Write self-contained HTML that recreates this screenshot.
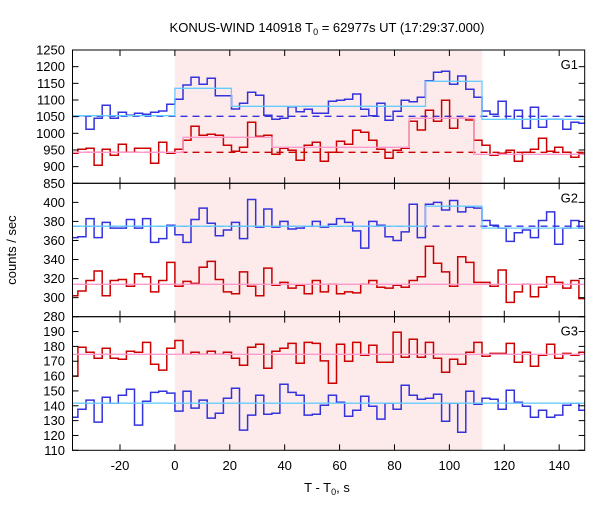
<!DOCTYPE html>
<html><head><meta charset="utf-8"><style>
body{margin:0;background:#fff;}
svg text{font-family:"Liberation Sans",sans-serif;fill:#000;}
</style></head><body>
<svg id="chart" width="600" height="500" xmlns="http://www.w3.org/2000/svg">
<text x="327" y="32" font-size="13" text-anchor="middle">KONUS-WIND 140918 T<tspan font-size="9" dy="3">0</tspan><tspan dy="-3"> = 62977s UT (17:29:37.000)</tspan></text>
<text x="16" y="250" font-size="13" text-anchor="middle" transform="rotate(-90 16 250)">counts / sec</text>
<text x="327" y="492" font-size="13" text-anchor="middle">T - T<tspan font-size="9" dy="3">0</tspan><tspan dy="-3">, s</tspan></text>
</svg>
<script>
const binWidth = 2.944;
const firstBin = -13;
const g1Blue = [1053,1053,1012,1045,1084,1045,1063,1054,1060,1057,1063,1067,1087,1102,1145,1168,1147,1165,1113,1113,1073,1090,1123,1114,1054,1042,1045,1080,1065,1072,1060,1060,1096,1099,1102,1118,1072,1053,1090,1039,1066,1099,1095,1108,1158,1183,1186,1147,1172,1132,1108,1067,1057,1096,1042,1069,1015,1078,1018,1042,1042,1012,1033,1030];
const g1Red = [940,952,955,904,952,934,967,943,955,955,910,973,940,952,979,1021,994,997,994,964,946,958,1033,991,994,937,955,949,919,964,973,916,943,976,967,1009,1003,979,952,925,949,955,1036,1010,1069,1036,1099,1015,1045,1040,979,964,934,940,949,916,943,952,985,946,958,943,928,940];
const g2Blue = [363,364,383,363,379,373,373,382,373,383,358,362,376,366,358,382,394,378,365,371,379,362,403,374,393,374,380,372,373,375,380,374,377,383,379,370,352,380,376,364,360,369,398,363,398,400,392,402,390,395,394,381,376,373,359,368,371,363,381,390,356,373,381,373];
const g2Red = [302,307,318,328,302,318,319,312,325,322,306,318,337,312,317,315,332,338,319,306,304,327,312,302,331,313,316,310,313,304,318,306,314,304,306,305,314,318,311,310,313,311,318,322,354,336,327,312,343,337,316,316,312,329,295,306,314,301,311,322,316,310,318,299];
const g3Red = [160,179.4,176,172,178.7,172,171.3,176.7,176,182.7,168,164,178.7,184,174.7,176,174.7,176.7,174.7,176,172,167.3,179.4,181.4,165.3,176.7,178.7,182,168.6,182.7,182,170.2,155.2,181.4,170,182.7,174,180.7,169.3,169.3,189.5,172.7,184.8,172.7,182.7,172,162.6,171.3,168,176,182.7,173.3,175.3,175.3,182,169.3,176,166.6,174,181.4,172,175.3,174,176];
const g3Blue = [132.3,137.7,143.8,129,145.8,141.7,147.1,151.1,127,143,149,149.8,148.5,136.4,149.8,138.4,143.8,131.7,135,145.1,151.8,123.6,133.7,147.1,134.3,135,154.5,149,147.1,133.7,134.3,140.4,147.1,142.4,133,137,146.4,139.7,131,141.7,137.7,153.8,147.1,144.4,145.1,147.8,129.6,141.7,122.2,149.8,141,145.1,144.4,137.7,150.5,142.4,139.7,132.3,137,132.3,133.7,140.4,141.7,137];
// fits: [start, end, value]
const g1BlueFit = [[-40,0,1053],[0,20.6,1135],[20.6,91.3,1081],[91.3,111.9,1156],[111.9,160,1042]];
const g1RedFit = [[-40,2.944,943],[2.944,35.3,988],[35.3,85.4,958],[85.4,108.9,1045],[108.9,160,937]];
const g1BlueBg = 1051, g1RedBg = 943;
const g2BlueFit = [[-40,91.3,375],[91.3,111.9,396],[111.9,160,373]];
const g2RedFit = [[-40,160,314]];
const g2BlueBg = 375;
const g3RedFit = [[-40,160,174.7]];
const g3BlueFit = [[-40,160,141.7]];
const xTicks = [-20,0,20,40,60,80,100,120,140];
const g1Ticks = [850,900,950,1000,1050,1100,1150,1200,1250];
const g2Ticks = [280,300,320,340,360,380,400];
const g3Ticks = [110,120,130,140,150,160,170,180,190];
const shadeRange = [0,112];

const svg = document.getElementById('chart');
const NS = 'http://www.w3.org/2000/svg';
const L = 72.5, R = 584.7, xMin = -37.3, xMax = 149.3;
const X = v => L + (v - xMin) * (R - L) / (xMax - xMin);
const panels = [
 {name:'g1', top:50, bot:183.3, min:850, max:1250, ticks:g1Ticks, label:'G1'},
 {name:'g2', top:183.3, bot:316.7, min:280, max:420, ticks:g2Ticks, label:'G2'},
 {name:'g3', top:316.7, bot:450.3, min:110, max:200, ticks:g3Ticks, label:'G3'}
];
function mk(tag, attrs){const e=document.createElementNS(NS,tag);for(const k in attrs)e.setAttribute(k,attrs[k]);svg.appendChild(e);return e;}
function Yf(p){return v => p.bot - (v - p.min) * (p.bot - p.top) / (p.max - p.min);}

// shaded interval
const sh = mk('rect',{x:X(shadeRange[0]),y:50,width:X(shadeRange[1])-X(shadeRange[0]),height:400.3,fill:'#fdeaea'});



function stepPath(vals, Y){
  let d='';
  for(let i=0;i<vals.length;i++){
    const k=firstBin+i;
    const x0=Math.max(X(k*binWidth),L), x1=Math.min(X((k+1)*binWidth),R);
    const y=Y(vals[i]);
    d += (i===0?'M'+x0.toFixed(1)+' '+y.toFixed(1):' V'+y.toFixed(1)) + ' H'+x1.toFixed(1);
  }
  return d;
}
function fitPath(segs, Y){
  let d='';
  segs.forEach((s,i)=>{
    const x0=Math.max(X(s[0]),L), x1=Math.min(X(s[1]),R), y=Y(s[2]);
    d += (i===0?'M'+x0.toFixed(1)+' '+y.toFixed(1):' V'+y.toFixed(1))+' H'+x1.toFixed(1);
  });
  return d;
}
function drawSeries(name, vals, Y, color){
  const p = mk('path',{d:stepPath(vals,Y),fill:'none',stroke:color,'stroke-width':1.5});
  
  
}
function drawFit(name, segs, Y, color){
  const p = mk('path',{d:fitPath(segs,Y),fill:'none',stroke:color,'stroke-width':1.3});
  
  
}
function drawBg(name, v, Y, color){
  const p = mk('line',{x1:L,x2:R,y1:Y(v),y2:Y(v),stroke:color,'stroke-width':1.3,'stroke-dasharray':'7,5'});
  
  
}

const Y1=Yf(panels[0]), Y2=Yf(panels[1]), Y3=Yf(panels[2]);
drawBg('g1-blue-background',g1BlueBg,Y1,'#3333dd');
drawBg('g1-red-background',g1RedBg,Y1,'#cc0000');
drawBg('g2-blue-background',g2BlueBg,Y2,'#3333dd');
drawSeries('g1-blue-series',g1Blue,Y1,'#3333dd');
drawSeries('g1-red-series',g1Red,Y1,'#cc0000');
drawFit('g1-blue-fit',g1BlueFit,Y1,'#66ccff');
drawFit('g1-red-fit',g1RedFit,Y1,'#ff99cc');
drawSeries('g2-blue-series',g2Blue,Y2,'#3333dd');
drawSeries('g2-red-series',g2Red,Y2,'#cc0000');
drawFit('g2-blue-fit',g2BlueFit,Y2,'#66ccff');
drawFit('g2-red-fit',g2RedFit,Y2,'#ff99cc');
drawSeries('g3-red-series',g3Red,Y3,'#cc0000');
drawSeries('g3-blue-series',g3Blue,Y3,'#3333dd');
drawFit('g3-red-fit',g3RedFit,Y3,'#ff99cc');
drawFit('g3-blue-fit',g3BlueFit,Y3,'#66ccff');

panels.forEach((p,pi)=>{
  const Y=Yf(p);
  const fr = mk('rect',{x:L,y:p.top,width:R-L,height:p.bot-p.top,fill:'none',stroke:'#000','stroke-width':1});
  
  
  p.ticks.forEach(t=>{
    const y=Y(t);
    const a=mk('line',{x1:L,x2:L+6,y1:y,y2:y,stroke:'#000'});
    
    
    const b=mk('line',{x1:R-6,x2:R,y1:y,y2:y,stroke:'#000'});
    
    
    if(!(pi>0 && t===p.max)){
      const tx=mk('text',{x:65,y:y+4.5,'font-size':13,'text-anchor':'end'});
      tx.textContent=t;
      
      
    }
  });
  xTicks.forEach(t=>{
    const x=X(t);
    const a=mk('line',{x1:x,x2:x,y1:p.top,y2:p.top+6,stroke:'#000'});
    
    
    const b=mk('line',{x1:x,x2:x,y1:p.bot-6,y2:p.bot,stroke:'#000'});
    
    
  });
  const lb=mk('text',{x:578,y:p.top+19,'font-size':13,'text-anchor':'end'});
  lb.textContent=p.label;
  
  
});
xTicks.forEach(t=>{
  const tx=mk('text',{x:X(t),y:470,'font-size':13,'text-anchor':'middle'});
  tx.textContent=t;
  
  
});
</script>
</body></html>
